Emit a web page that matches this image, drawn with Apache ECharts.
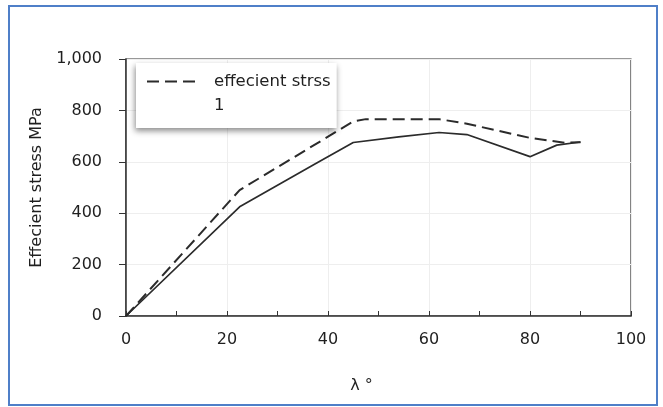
<!DOCTYPE html>
<html>
<head>
<meta charset="utf-8">
<script src="https://cdn.jsdelivr.net/npm/echarts@6/dist/echarts.min.js"></script>
<style>
  html, body { margin: 0; padding: 0; background: #fff; }
  #chart { width: 663px; height: 407px; }
</style>
</head>
<body>
<div id="chart"></div>
<script>
// values
var dashedName = 'effecient strss'
var solidName = '1'
var dashedX = [0, 22.5, 45, 47.5, 62, 67.5, 80, 87, 90]
var dashedY = [0, 490, 757, 766, 766, 748, 693, 674, 676]
var solidX = [0, 22.5, 37.5, 45, 54, 62, 67.5, 80, 85.3, 90]
var solidY = [0, 425, 592, 675, 697, 714, 706, 620, 665, 677]
var xTicks = [0, 20, 40, 60, 80, 100]
var yTicks = [0, 200, 400, 600, 800, 1000]

function pairs (xs, ys) {
  return xs.map(function (x, i) { return [x, ys[i]] })
}

var font = 'DejaVu Sans'
var textColor = '#1f1f1f'

var chart = echarts.init(document.getElementById('chart'))
chart.setOption({
  animation: false,
  backgroundColor: '#fff',
  graphic: [{
    type: 'rect',
    shape: { x: 9, y: 6, width: 648, height: 399 },
    style: { fill: 'none', stroke: '#4f7fc8', lineWidth: 2 },
    z: 0
  }],
  grid: {
    left: 126, right: 32, top: 59, bottom: 91,
    show: true, borderColor: '#333', borderWidth: 1.2
  },
  legend: {
    orient: 'vertical',
    left: 136, top: 63,
    padding: [10, 6, 14, 10],
    itemGap: 7,
    itemWidth: 52, itemHeight: 14,
    backgroundColor: '#fff',
    shadowColor: 'rgba(0,0,0,0.45)',
    shadowBlur: 6,
    shadowOffsetX: -1,
    shadowOffsetY: 3,
    itemStyle: { opacity: 0 },
    textStyle: { fontFamily: font, fontSize: 16.5, color: textColor, padding: [0, 0, 0, 10] },
    data: [
      { name: dashedName },
      { name: solidName, lineStyle: { opacity: 0 } }
    ]
  },
  xAxis: {
    type: 'value',
    min: xTicks[0], max: xTicks[xTicks.length - 1], interval: 20,
    name: 'λ °',
    nameLocation: 'middle',
    nameGap: 62,
    nameTextStyle: { fontFamily: font, fontSize: 16, color: textColor, padding: [0, 34, 0, 0] },
    axisLine: { lineStyle: { color: '#333', width: 1.5 } },
    axisTick: { show: true, inside: true, length: 5, lineStyle: { color: '#333' } },
    minorTick: { show: true, splitNumber: 2, length: 5, lineStyle: { color: '#333' } },
    axisLabel: { margin: 16, fontFamily: font, fontSize: 16, color: textColor },
    splitLine: { show: true, lineStyle: { color: '#eeeeee', width: 1 } }
  },
  yAxis: {
    type: 'value',
    min: yTicks[0], max: yTicks[yTicks.length - 1], interval: 200,
    name: 'Effecient stress MPa',
    nameLocation: 'middle',
    nameGap: 63,
    nameTextStyle: { fontFamily: font, fontSize: 16, color: textColor },
    axisLine: { show: true, lineStyle: { color: '#333', width: 1.5 } },
    axisTick: { show: true, length: 7, lineStyle: { color: '#333' } },
    axisLabel: {
      margin: 24, fontFamily: font, fontSize: 16, color: textColor,
      formatter: function (v) { return v.toLocaleString('en-US') }
    },
    splitLine: { show: true, lineStyle: { color: '#eeeeee', width: 1 } }
  },
  series: [
    {
      name: dashedName,
      type: 'line',
      symbol: 'none',
      data: pairs(dashedX, dashedY),
      lineStyle: { color: '#2b2b2b', width: 2, type: [12, 6] },
      itemStyle: { color: '#2b2b2b' },
      z: 3
    },
    {
      name: solidName,
      type: 'line',
      symbol: 'none',
      data: pairs(solidX, solidY),
      lineStyle: { color: '#2b2b2b', width: 1.7 },
      itemStyle: { color: '#2b2b2b' },
      z: 3
    }
  ]
})
</script>
</body>
</html>
